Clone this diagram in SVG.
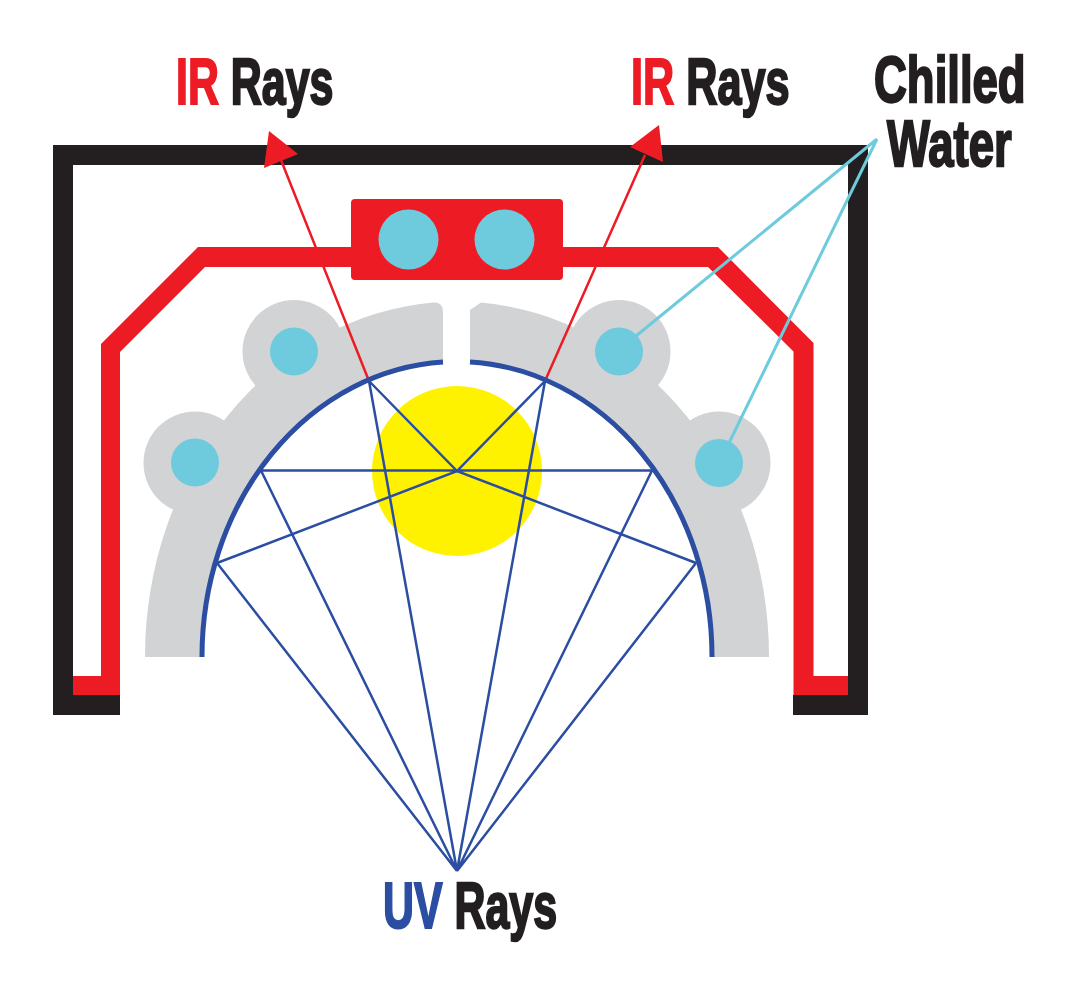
<svg xmlns="http://www.w3.org/2000/svg" width="1080" height="990" viewBox="0 0 1080 990">
<style>
.lbl{font-family:"Liberation Sans",Arial,sans-serif;font-weight:700;font-size:65px;fill:#231F20;stroke:#231F20;stroke-width:2;vector-effect:non-scaling-stroke}
.r{fill:#ED1C24;stroke:#ED1C24}
.u{fill:#2B4EA2;stroke:#2B4EA2}
.grey{fill:#D1D3D4}
.cy{fill:#6DCBDD}
.ray{fill:none;stroke:#2B4EA2;stroke-width:2.5}
.ir{fill:none;stroke:#ED1C24;stroke-width:2.5}
.cw{fill:none;stroke:#6DCBDD;stroke-width:3}
</style>
<rect width="1080" height="990" fill="#fff"/>
<g id="housing"><path fill="#231F20" d="M53,145H868V715H793V695H848V165H73V695H120V715H53Z"/></g>
<g id="reflector-cooling">
<path fill="#ED1C24" d="M73,676H101V344L198,247H351V203Q351,199 355,199H559Q563,199 563,203V247H718L813.500,343V676H848V695H793.500V351.500L708,267H563V276Q563,280 559,280H355Q351,280 351,276V267H205L120,352V695H73Z"/>
<circle class="cy" cx="408.500" cy="239.500" r="30"/>
<circle class="cy" cx="504.500" cy="239.500" r="30"/>
</g>
<g id="reflector">
<circle class="grey" cx="195" cy="463" r="51.500"/>
<circle class="grey" cx="294" cy="351.500" r="51.500"/>
<circle class="grey" cx="619" cy="351.500" r="51.500"/>
<circle class="grey" cx="719" cy="463" r="51.500"/>
<path class="grey" d="M145,657A312,355 0 0 1 433,302.600Q443,302 443,312V362A255,295 0 0 0 202,657Z"/>
<path class="grey" d="M769,657A312,355 0 0 0 481,302.600L470,310V362A255,295 0 0 1 712,657Z"/>
<circle class="cy" cx="195" cy="462.500" r="24"/>
<circle class="cy" cx="294" cy="351.500" r="24"/>
<circle class="cy" cx="619" cy="351.500" r="24"/>
<circle class="cy" cx="719" cy="463" r="24"/>
</g>
<g id="lamp"><circle cx="457" cy="471" r="85" fill="#FFF200"/></g>
<g id="connectors">
<path class="ir" d="M369,381L281,160M545,381L645,155"/>
<path fill="#ED1C24" d="M269,131L298,154L264,168ZM659,125L663,162L630,147Z"/>
<path class="cw" d="M877,139L636,336M877,139L729,443"/>
<path class="ray" d="M261,470.500H652M217,563L457,471L696,563M369,381L457,471L545,381M457,871L217,563M457,871L261,470.500M457,871L369,381M457,871L545,381M457,871L652,470.500M457,871L696,563"/>
<path fill="none" stroke="#2B4EA2" stroke-width="5" d="M202,657A255,295 0 0 1 443,362M470,362A255,295 0 0 1 712,657"/>
</g>
<g id="labels">
<text id="ir-left" class="lbl" transform="translate(176,104) scale(.66,1)"><tspan class="r">IR</tspan> Rays</text>
<text id="ir-right" class="lbl" transform="translate(631,104) scale(.665,1)"><tspan class="r">IR</tspan> Rays</text>
<text id="chilled" class="lbl" transform="translate(874,101.500) scale(.70,1)">Chilled</text>
<text id="water" class="lbl" transform="translate(887,165.500) scale(.70,1)">Water</text>
<text id="uv" class="lbl" transform="translate(383,928) scale(.66,1)"><tspan class="u">UV</tspan> Rays</text>
</g>
</svg>
